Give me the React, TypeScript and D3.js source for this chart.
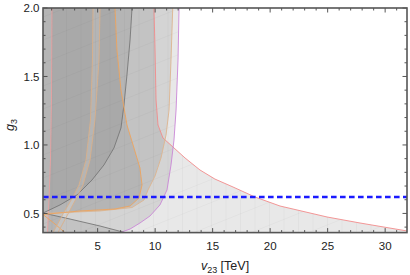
import React from 'react';
import * as d3 from 'd3';

type P = [number, number];

const W = 410, H = 275;
const xDomain: P = [0.25, 31.9];
const yDomain: P = [0.36, 2.0];
const xMajor = [5, 10, 15, 20, 25, 30];
const yMajor = [0.5, 1.0, 1.5, 2.0];
const blueLevel = 0.62;

// boundary curves [v23, g3]
const redCurve: P[] = [[9.9, 2.0], [9.99, 1.693], [10.08, 1.328], [10.25, 1.146], [10.68, 1.051], [11.55, 0.985], [12.6, 0.905], [13.9, 0.817], [15.2, 0.751], [16.77, 0.693], [18.68, 0.62], [20.86, 0.554], [21.99, 0.532], [24.95, 0.474], [27.82, 0.43], [31.9, 0.372]];
const pinkCurve: P[] = [[1.03, 2.0], [0.99, 1.328], [0.9, 0.89], [0.77, 0.598], [0.64, 0.36]];
const purpleCurve: P[] = [[12.08, 2.0], [11.99, 1.62], [11.82, 1.255], [11.64, 1.036], [11.38, 0.854], [11.03, 0.671], [10.42, 0.562], [9.55, 0.481], [8.68, 0.43], [7.82, 0.386], [6.95, 0.36]];
const tanCurve: P[] = [[11.53, 2.0], [11.38, 1.62], [11.21, 1.255], [10.95, 1.073], [10.51, 0.905], [9.99, 0.773], [9.38, 0.671], [9.03, 0.598], [7.99, 0.543], [5.21, 0.518], [0.25, 0.4996]];
const grayCurve: P[] = [[7.99, 2.0], [7.82, 1.766], [7.55, 1.511], [7.29, 1.292], [7.03, 1.124], [6.42, 0.978], [5.55, 0.854], [4.51, 0.744], [3.21, 0.635], [1.73, 0.562], [0.25, 0.503]];
const grayLower: P[] = [[0.25, 0.503], [2.6, 0.459], [5.21, 0.408], [7.38, 0.36]];
const orangeCurve: P[] = [[6.51, 2.0], [6.68, 1.693], [7.03, 1.401], [7.55, 1.146], [8.16, 0.978], [8.68, 0.832], [8.86, 0.708], [8.6, 0.613], [7.82, 0.554], [6.51, 0.532], [3.47, 0.518], [0.25, 0.492]];
const orangeLower: P[] = [[0.25, 0.492], [1.29, 0.423], [2.16, 0.36]];
const bandLeft: P[] = [[4.6, 2.0], [4.55, 1.62], [4.38, 1.182], [3.99, 0.89], [3.38, 0.708], [2.86, 0.62], [2.08, 0.51], [1.12, 0.36]];
const bandRight: P[] = [[5.21, 2.0], [5.12, 1.62], [4.77, 1.182], [4.34, 0.89], [3.73, 0.708], [3.21, 0.62], [2.51, 0.51], [1.55, 0.36]];

export default function App() {
  const x = d3.scaleLinear().domain(xDomain).range([43, 407]);
  const y = d3.scaleLinear().domain(yDomain).range([232.6, 8]);
  const line = d3.line<P>().x(d => x(d[0])).y(d => y(d[1]));
  const [x0, x1] = xDomain;
  const [y0, y1] = yDomain;

  const purpleRegion: P[] = [[x0, y1], ...purpleCurve, [x0, y0]];
  const redRegion: P[] = [...pinkCurve, [x1, y0], ...redCurve.slice().reverse()];
  const regions: P[][] = [
    purpleRegion,
    [[x0, y1], ...tanCurve],
    redRegion,
    [[x0, y1], ...grayCurve, ...grayLower.slice(1), [x0, y0]],
    [...bandRight.slice(0, 7), ...orangeCurve.slice(0, 11).reverse()],
    [[x0, y1], ...bandLeft, [x0, y0]],
  ];
  const strokes: { pts: P[]; c: string }[] = [
    { pts: redCurve, c: '#f28b8b' },
    { pts: pinkCurve, c: '#e9a0a0' },
    { pts: purpleCurve, c: '#c987d6' },
    { pts: tanCurve, c: '#dcb48e' },
    { pts: grayCurve, c: '#777' },
    { pts: grayLower, c: '#777' },
    { pts: orangeCurve, c: '#eea45c' },
    { pts: orangeLower, c: '#eea45c' },
    { pts: bandLeft, c: '#d9b08a' },
    { pts: bandRight, c: '#d9b08a' },
  ];

  const minorX = d3.range(1, 32, 1);
  const minorY = d3.range(0.4, 2.001, 0.1).map(v => Math.round(v * 10) / 10);
  const left = 43, right = 407, top = 8, bottom = 232.6;
  const font = '"Liberation Sans", Arial, sans-serif';

  // faint mesh artefacts inside the shaded area
  const meshV = d3.range(left + 9, right, 14.5);
  const meshD = d3.range(top - 160, bottom + 40, 23);

  return (
    <svg width={W} height={H} style={{ position: 'absolute', left: 0, top: 0, background: '#fff' }}>
      <defs>
        <clipPath id="plot"><rect x={left} y={top} width={right - left} height={bottom - top} /></clipPath>
        <clipPath id="shade">
          <path d={line(purpleRegion)! + 'Z'} />
          <path d={line(redRegion)! + 'Z'} />
        </clipPath>
      </defs>
      <g clipPath="url(#plot)">
        {regions.map((r, i) => (
          <path key={i} d={line(r)! + 'Z'} fill="#666" fillOpacity={0.15} stroke="none" />
        ))}
        <g clipPath="url(#shade)" stroke="#000" strokeOpacity={0.045} strokeWidth={0.7}>
          {meshV.map((v, i) => <line key={'v' + i} x1={v} x2={v} y1={top} y2={bottom} />)}
          {meshD.map((v, i) => <line key={'d' + i} x1={left} x2={right} y1={v + 146} y2={v} />)}
        </g>
        {strokes.map((s, i) => (
          <path key={i} d={line(s.pts)!} fill="none" stroke={s.c} strokeWidth={0.9} />
        ))}
        <line x1={left} x2={right} y1={y(blueLevel)} y2={y(blueLevel)} stroke="#1a1aff" strokeWidth={2.4} strokeDasharray="5.6 3.4" />
      </g>
      <g stroke="#444" strokeWidth={0.9}>
        {minorX.map(v => {
          const L = v % 5 === 0 ? 4.5 : 2.5;
          return (
            <g key={'x' + v}>
              <line x1={x(v)} x2={x(v)} y1={bottom} y2={bottom - L} />
              <line x1={x(v)} x2={x(v)} y1={top} y2={top + L} />
            </g>
          );
        })}
        {minorY.map(v => {
          const L = Math.abs(v * 2 - Math.round(v * 2)) < 1e-6 ? 4.5 : 2.5;
          return (
            <g key={'y' + v}>
              <line x1={left} x2={left + L} y1={y(v)} y2={y(v)} />
              <line x1={right} x2={right - L} y1={y(v)} y2={y(v)} />
            </g>
          );
        })}
      </g>
      <rect x={left} y={top} width={right - left} height={bottom - top} fill="none" stroke="#555" strokeWidth={1.6} />
      <g fontFamily={font} fontSize={11.5} fill="#222">
        {xMajor.map(v => (
          <text key={v} x={x(v)} y={249.5} textAnchor="middle">{v}</text>
        ))}
        {yMajor.map(v => (
          <text key={v} x={39.5} y={y(v) + 4.1} textAnchor="end">{v.toFixed(1)}</text>
        ))}
        <text x={225} y={270} textAnchor="middle" fontSize={12.5}>
          <tspan fontStyle="italic">v</tspan>
          <tspan fontSize={9} dy={2.8}>23</tspan>
          <tspan dy={-2.8}> [TeV]</tspan>
        </text>
        <text transform="translate(14,125) rotate(-90)" textAnchor="middle" fontSize={12.5}>
          <tspan fontStyle="italic">g</tspan>
          <tspan fontSize={9} dy={2.8}>3</tspan>
        </text>
      </g>
    </svg>
  );
}
